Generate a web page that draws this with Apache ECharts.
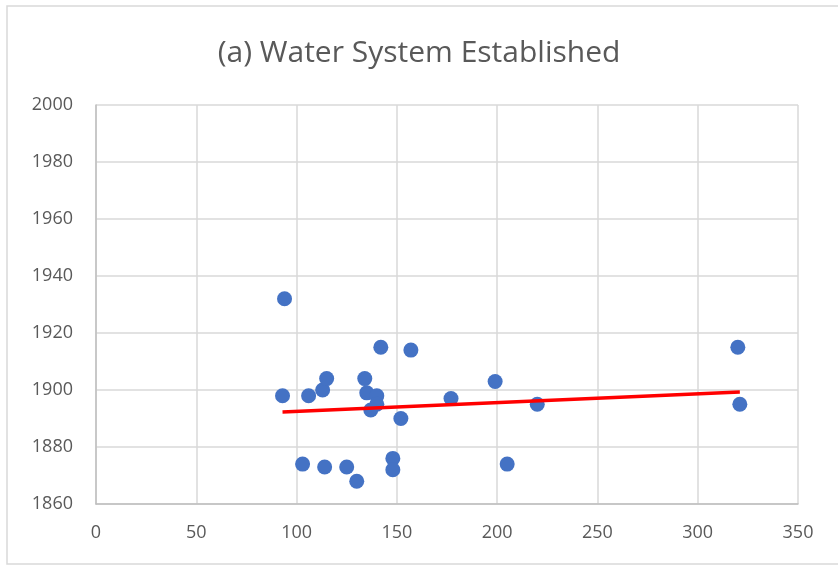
<!DOCTYPE html>
<html>
<head>
<meta charset="utf-8">
<script src="https://cdn.jsdelivr.net/npm/echarts@6/dist/echarts.min.js"></script>
<style>
  html, body { margin: 0; padding: 0; background: #fff; }
  #chart { width: 838px; height: 566px; }
</style>
</head>
<body>
<div id="chart"></div>
<script>
// data
var xValues = [94, 93, 106, 113, 115, 134, 135, 140, 140, 137, 142, 157, 152, 177,
               103, 114, 125, 130, 148, 148, 199, 220, 205, 320, 321];
var yValues = [1932, 1898, 1898, 1900, 1904, 1904, 1899, 1898, 1895, 1893, 1915, 1914, 1890, 1897,
               1874, 1873, 1873, 1868, 1876, 1872, 1903, 1895, 1874, 1915, 1895];
var xTicks = [0, 50, 100, 150, 200, 250, 300, 350];
var yTicks = [1860, 1880, 1900, 1920, 1940, 1960, 1980, 2000];

var points = [];
for (var i = 0; i < xValues.length; i++) {
    points.push([xValues[i], yValues[i]]);
}

// linear trendline (least squares), like excel does
function trend(xs, ys) {
    var n = xs.length, sx = 0, sy = 0, sxx = 0, sxy = 0;
    for (var i = 0; i < n; i++) {
        sx += xs[i]; sy += ys[i];
        sxx += xs[i] * xs[i]; sxy += xs[i] * ys[i];
    }
    var b = (n * sxy - sx * sy) / (n * sxx - sx * sx);
    var a = (sy - b * sx) / n;
    var x0 = Math.min.apply(null, xs), x1 = Math.max.apply(null, xs);
    return [[x0, a + b * x0], [x1, a + b * x1]];
}
var trendLine = trend(xValues, yValues);

var labelColor = "#595959";
var gridColor = "#d9d9d9";

var myChart = echarts.init(document.getElementById("chart"));
var option = {
    backgroundColor: "#fff",
    animation: false,
    title: {
        text: "(a) Water System Established",
        left: "center",
        top: 33,
        textStyle: { fontFamily: "Open Sans", fontSize: 30, fontWeight: "normal", color: labelColor }
    },
    graphic: [{
        type: "rect",
        shape: { x: 7, y: 6, width: 840, height: 558 },
        style: { fill: "none", stroke: gridColor, lineWidth: 1.5 },
        silent: true
    }],
    grid: { left: 96, top: 105, right: 40, bottom: 62, containLabel: false },
    xAxis: {
        type: "value",
        min: xTicks[0],
        max: xTicks[xTicks.length - 1],
        interval: 50,
        axisLine: { show: true, lineStyle: { color: "#bfbfbf", width: 1.5 } },
        axisTick: { show: false },
        axisLabel: { color: labelColor, fontSize: 18, fontFamily: "Open Sans", margin: 20 },
        splitLine: { show: true, lineStyle: { color: gridColor, width: 1.5 } }
    },
    yAxis: {
        type: "value",
        min: yTicks[0],
        max: yTicks[yTicks.length - 1],
        interval: 20,
        axisLine: { show: true, lineStyle: { color: "#bfbfbf", width: 1.5 } },
        axisTick: { show: false },
        axisLabel: {
            color: labelColor, fontSize: 18, fontFamily: "Open Sans", margin: 23,
            formatter: function (v) { return String(v); }
        },
        splitLine: { show: true, lineStyle: { color: gridColor, width: 1.5 } }
    },
    series: [{
        type: "line",
        data: trendLine,
        showSymbol: false,
        lineStyle: { color: "#ff0000", width: 3.5 },
        z: 3
    }, {
        type: "scatter",
        data: points,
        symbol: "circle",
        symbolSize: 15,
        itemStyle: { color: "#4472c4", opacity: 1 },
        z: 2
    }]
};
myChart.setOption(option);
</script>
</body>
</html>
